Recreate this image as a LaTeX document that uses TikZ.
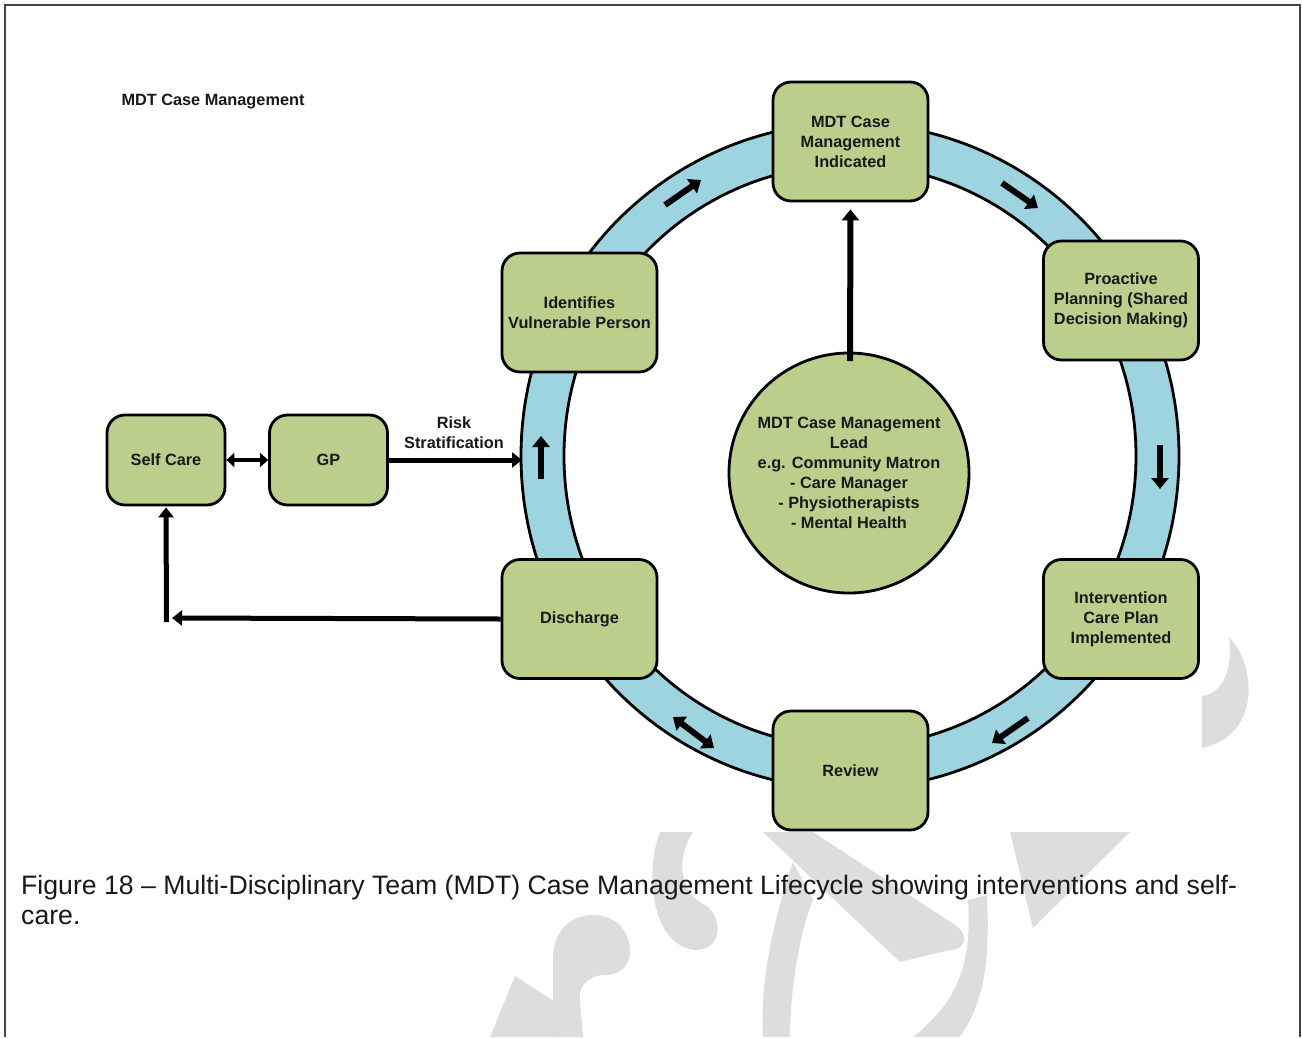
\documentclass[tikz,border=0pt]{standalone}
\usepackage{fontspec}
\setmainfont{Liberation Sans}
\usetikzlibrary{arrows.meta}
\definecolor{boxgreen}{HTML}{BCCE8C}
\definecolor{ringblue}{HTML}{9DD4E0}
\definecolor{wm}{HTML}{DDDDDD}
\definecolor{framegray}{HTML}{444444}
\begin{document}
\begin{tikzpicture}[x=1pt,y=-1pt,
  box/.style={draw=black, fill=boxgreen, line width=2.8pt, rounded corners=18pt,
    minimum width=155pt, minimum height=119pt, inner sep=0pt, align=center,
    font=\fontsize{16.3}{20}\selectfont\bfseries, text=black!90},
  smallbox/.style={box, minimum width=118pt, minimum height=90pt},
  leadcircle/.style={draw=black, fill=boxgreen, line width=2.8pt, circle,
    minimum size=240pt, inner sep=0pt, align=center,
    font=\fontsize{16.3}{20}\selectfont\bfseries, text=black!90},
  lbl/.style={align=center, font=\fontsize{16.3}{20}\selectfont\bfseries, text=black!90},
  flowarr/.style={line width=5pt, -{Triangle[length=10pt,width=15pt]}},
  dblarr/.style={line width=4pt, {Triangle[length=8pt,width=14pt]}-{Triangle[length=8pt,width=14pt]}},
  ringarr/.style={line width=6pt, -{Triangle[length=11pt,width=17pt]}},
  ringdbl/.style={line width=6pt, {Triangle[length=11pt,width=17pt]}-{Triangle[length=11pt,width=17pt]}},
  wmshape/.style={fill=wm}
]
\useasboundingbox (0,0) rectangle (1302,1037);
\fill[white] (0,0) rectangle (1302,1037);
\draw[framegray, line width=2pt] (5,1037) -- (5,5) -- (1300,5) -- (1300,1037);

% watermark
\fill[wmshape] (1229,637) .. controls (1256,665) and (1262,735) .. (1202,748) -- (1202,696)
  .. controls (1225,693) and (1233,665) .. (1229,637) -- cycle;
\fill[wmshape] (515,976) -- (490,1037) -- (583,1037) -- (560,1005) -- cycle;
\fill[wmshape] (553,1037) -- (553,960) .. controls (553,928) and (573,915) .. (593,915)
  .. controls (615,915) and (630,930) .. (630,952) .. controls (630,966) and (620,975) .. (605,975)
  .. controls (590,975) and (578,985) .. (580,1000) -- (583,1037) -- cycle;
\fill[wmshape] (660,832) .. controls (645,870) and (650,945) .. (695,950)
  .. controls (725,950) and (722,915) .. (705,905) .. controls (680,893) and (675,860) .. (693,832) -- cycle;
\fill[wmshape] (763,832) -- (813,832) -- (955,925) .. controls (970,935) and (965,950) .. (950,950)
  -- (900,962) -- cycle;
\fill[wmshape] (793,862) .. controls (770,930) and (760,990) .. (763,1037) -- (790,1037)
  .. controls (790,990) and (800,930) .. (813,900) -- cycle;
\fill[wmshape] (968,900) -- (987,895) .. controls (990,960) and (985,1000) .. (960,1037)
  -- (913,1037) .. controls (960,1000) and (972,960) .. (968,900) -- cycle;
\fill[wmshape] (1010,832) -- (1130,832) -- (1033,928) -- cycle;

% ring
\fill[ringblue, even odd rule] (850,456) ellipse [x radius=329pt, y radius=333pt]
  (850,456) ellipse [x radius=286pt, y radius=291pt];
\draw[black, line width=2.8pt] (850,456) ellipse [x radius=329pt, y radius=333pt];
\draw[black, line width=2.8pt] (850,456) ellipse [x radius=286pt, y radius=291pt];

% title
\node[lbl] (title) at (213,101.5) {MDT Case Management};

% boxes
\node[box] (mdt) at (850.5,141.5) {MDT Case\\Management\\Indicated};
\node[box] (pro) at (1121,300.5) {Proactive\\Planning (Shared\\Decision Making)};
\node[box] (int) at (1121,619) {Intervention\\Care Plan\\Implemented};
\node[box] (rev) at (850.5,770.5) {Review};
\node[box] (dis) at (579.5,619) {Discharge};
\node[box] (ide) at (579.5,312.5) {Identifies\\Vulnerable Person};
\node[smallbox] (self) at (166,460) {Self Care};
\node[smallbox] (gp) at (328.5,460) {GP};

% centre circle and arrow
\node[leadcircle] (lead) at (849,473) {MDT Case Management\\Lead\\e.g. Community Matron\\- Care Manager\\- Physiotherapists\\- Mental Health};
\coordinate (leadtop) at (850,361);
\draw[ringarr] (leadtop) -- ([yshift=-7pt]mdt.south);

% left flow
\coordinate (riskend) at (522,460);
\draw[flowarr] (gp.east) -- (riskend);
\node[lbl] (risk) at (454,433) {Risk\\Stratification};
\draw[dblarr] (self.east) -- (gp.west);
\coordinate (dleft) at (172,618);
\coordinate (turn) at (166.5,622);
\draw[flowarr] (dis.west) -- (dleft);
\draw[flowarr, shorten >=1pt] (turn) -- (self.south);

% ring arrows
\coordinate (r1a) at (665,205); \coordinate (r1b) at (701,180);
\coordinate (r2a) at (1002,183); \coordinate (r2b) at (1038,208);
\coordinate (r3a) at (1160,445); \coordinate (r3b) at (1160,489);
\coordinate (r4a) at (1028,718); \coordinate (r4b) at (992,743);
\coordinate (r5a) at (673,717); \coordinate (r5b) at (714,748);
\coordinate (r6a) at (541,479); \coordinate (r6b) at (541,436);
\draw[ringarr] (r1a) -- (r1b);
\draw[ringarr] (r2a) -- (r2b);
\draw[ringarr] (r3a) -- (r3b);
\draw[ringarr] (r4a) -- (r4b);
\draw[ringdbl] (r5a) -- (r5b);
\draw[ringarr] (r6a) -- (r6b);

% caption
\node[anchor=west, align=left, inner sep=0pt, font=\fontsize{26.65}{30}\selectfont, text=black!90]
  (cap) at (21,900) {Figure 18 -- Multi-Disciplinary Team (MDT) Case Management Lifecycle showing interventions and self-\\care.};
\end{tikzpicture}
\end{document}
